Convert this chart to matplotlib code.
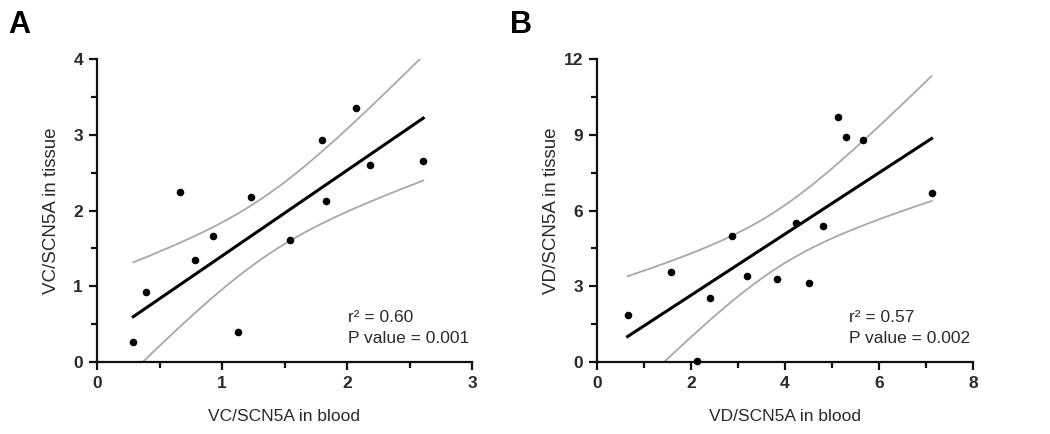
import numpy as np
import matplotlib
matplotlib.use("Agg")
import matplotlib.pyplot as plt
from matplotlib.ticker import MultipleLocator

plt.rcParams['font.family'] = ['Liberation Sans', 'DejaVu Sans']

# Panel A data
a_blood = [0.29, 0.39, 0.66, 0.78, 0.93, 1.13, 1.23, 1.54, 1.80, 1.83, 2.07, 2.18, 2.61]
a_tissue = [0.27, 0.92, 2.24, 1.34, 1.66, 0.39, 2.18, 1.61, 2.93, 2.13, 3.35, 2.60, 2.66]
a_fit = [1.13, 0.27]   # slope, intercept of the drawn regression line
a_xlabel = "VC/SCN5A in blood"
a_ylabel = "VC/SCN5A in tissue"
a_stats = ["r\u00b2 = 0.60", "P value = 0.001"]
a_xticks = [0, 1, 2, 3]
a_yticks = [0, 1, 2, 3, 4]

# Panel B data
b_blood = [0.65, 1.57, 2.40, 2.12, 2.87, 3.19, 3.82, 4.23, 4.51, 4.81, 5.12, 5.30, 5.67, 7.12]
b_tissue = [1.87, 3.56, 2.55, 0.03, 4.99, 3.39, 3.27, 5.52, 3.14, 5.39, 9.70, 8.90, 8.80, 6.68]
b_fit = None           # ordinary least squares fit of the points
b_xlabel = "VD/SCN5A in blood"
b_ylabel = "VD/SCN5A in tissue"
b_stats = ["r\u00b2 = 0.57", "P value = 0.002"]
b_xticks = [0, 2, 4, 6, 8]
b_yticks = [0, 3, 6, 9, 12]

# two-sided 95% Student t critical values (df = n - 2)
T_CRIT = {11: 2.201, 12: 2.179}

W, H = 1050, 434
fig = plt.figure(figsize=(W / 100, H / 100), dpi=100)

def px_axes(x0, x1, y0, y1):
    return fig.add_axes([x0 / W, 1 - y1 / H, (x1 - x0) / W, (y1 - y0) / H])

TXT = '#2a2a2a'

def panel(ax, xs, ys, fit, xlabel, ylabel, stats, xticks, yticks, xminor, yminor, letter, letter_x):
    xs = np.asarray(xs, float)
    ys = np.asarray(ys, float)
    n = len(xs)
    ols_slope, ols_icpt = np.polyfit(xs, ys, 1)
    slope, icpt = (ols_slope, ols_icpt) if fit is None else fit
    xx = np.linspace(xs.min(), xs.max(), 200)
    yy = slope * xx + icpt
    resid = ys - (ols_slope * xs + ols_icpt)
    s = np.sqrt(np.sum(resid ** 2) / (n - 2))
    sxx = np.sum((xs - xs.mean()) ** 2)
    half = T_CRIT[n - 2] * s * np.sqrt(1 / n + (xx - xs.mean()) ** 2 / sxx)
    ax.plot(xx, yy + half, color='#a8a8a8', lw=1.3, zorder=2)
    ax.plot(xx, yy - half, color='#a8a8a8', lw=1.3, zorder=2)
    ax.plot(xx, yy, color='black', lw=2.2, zorder=3)
    ax.scatter(xs, ys, s=30, color='black', zorder=4, clip_on=False, linewidths=0)

    ax.set_xlim(xticks[0], xticks[-1])
    ax.set_ylim(yticks[0], yticks[-1])
    ax.set_xticks(xticks)
    ax.set_yticks(yticks)
    ax.xaxis.set_minor_locator(MultipleLocator(xminor))
    ax.yaxis.set_minor_locator(MultipleLocator(yminor))
    for sp in ['top', 'right']:
        ax.spines[sp].set_visible(False)
    for sp in ['left', 'bottom']:
        ax.spines[sp].set_linewidth(1.6)
        ax.spines[sp].set_color('#111111')
    ax.tick_params(which='major', direction='out', length=6, width=1.6, color='#111111',
                   labelsize=12.5, labelcolor=TXT, pad=4)
    ax.tick_params(which='minor', direction='out', length=4, width=1.6, color='#111111')
    for lab in ax.get_xticklabels() + ax.get_yticklabels():
        lab.set_fontweight('bold')
    ax.set_xlabel(xlabel, fontsize=12.5, color=TXT)
    ax.set_ylabel(ylabel, fontsize=13.5, color=TXT)
    ax.yaxis.set_label_coords(-0.098, 0.5)
    ax.xaxis.set_label_coords(0.5, -0.155)
    ax.text(0.669, 0.132, stats[0], transform=ax.transAxes, fontsize=12.5, color=TXT,
            va='baseline', ha='left')
    ax.text(0.669, 0.063, stats[1], transform=ax.transAxes, fontsize=12.5, color=TXT,
            va='baseline', ha='left')
    fig.text(letter_x / W, 1 - 10 / H, letter, fontsize=22, fontweight='bold',
             color='black', va='top', ha='left')

axA = px_axes(97, 472, 59, 362)
panel(axA, a_blood, a_tissue, a_fit, a_xlabel, a_ylabel, a_stats, a_xticks, a_yticks, 0.5, 0.5, 'A', 8)

axB = px_axes(597, 973, 59, 362)
panel(axB, b_blood, b_tissue, b_fit, b_xlabel, b_ylabel, b_stats, b_xticks, b_yticks, 1, 1.5, 'B', 510)

fig.savefig('out.png', dpi=100, facecolor='white')
